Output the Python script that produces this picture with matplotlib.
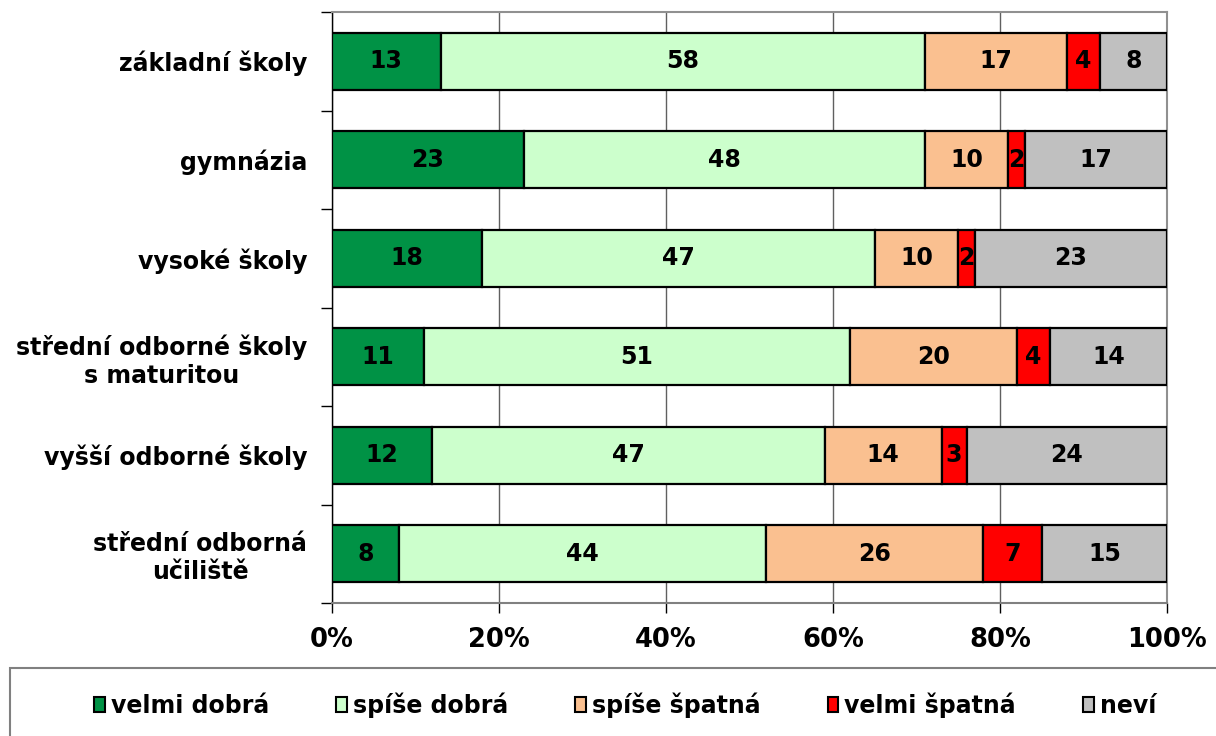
import matplotlib
matplotlib.use("Agg")
import matplotlib.pyplot as plt
from matplotlib.patches import Rectangle, Patch
import numpy as np

categories = ["základní školy", "gymnázia", "vysoké školy",
              "střední odborné školy\ns maturitou", "vyšší odborné školy",
              "střední odborná\nučiliště"]
series_names = ["velmi dobrá", "spíše dobrá", "spíše špatná", "velmi špatná", "neví"]
velmi_dobra = [13, 23, 18, 11, 12, 8]
spise_dobra = [58, 48, 47, 51, 47, 44]
spise_spatna = [17, 10, 10, 20, 14, 26]
velmi_spatna = [4, 2, 2, 4, 3, 7]
nevi = [8, 17, 23, 14, 24, 15]
x_ticks = [0, 20, 40, 60, 80, 100]
x_tick_labels = ["0%", "20%", "40%", "60%", "80%", "100%"]

colors = ["#009245", "#CCFFCC", "#FAC090", "#FF0000", "#C0C0C0"]

plt.rcParams['font.family'] = ['DejaVu Sans']
plt.rcParams['font.weight'] = 'bold'

fig = plt.figure(figsize=(12.16, 7.36), dpi=100)
ax = fig.add_axes([332/1216, 1-603/736, (1167-332)/1216, (603-12)/736])

series = [velmi_dobra, spise_dobra, spise_spatna, velmi_spatna, nevi]
y = np.arange(len(categories))
left = np.zeros(len(categories))
for vals, col, name in zip(series, colors, series_names):
    vals = np.array(vals, dtype=float)
    ax.barh(y, vals, left=left, height=0.58, color=col,
            edgecolor="black", linewidth=1.6, label=name, zorder=3)
    for yi, l, v in zip(y, left, vals):
        ax.text(l + v/2, yi, f"{int(v)}", ha="center", va="center",
                fontsize=17, fontweight="bold", color="black", zorder=4)
    left += vals

ax.set_xlim(0, 100)
ax.set_ylim(len(categories) - 0.5, -0.5)
ax.set_xticks(x_ticks)
ax.set_xticklabels(x_tick_labels, fontsize=18.5, fontweight="bold")
ax.set_yticks(y)
ax.set_yticklabels(categories, fontsize=17, fontweight="bold")
for t in ax.get_yticklabels():
    t.set_multialignment("center")
ax.set_yticks(np.arange(-0.5, len(categories)), minor=True)
ax.tick_params(axis="y", which="major", length=0, pad=18)
ax.tick_params(axis="y", which="minor", length=8, width=1, color="black")
ax.tick_params(axis="x", which="major", length=7, width=1, color="black", pad=10)

ax.xaxis.grid(True, color="#606060", linewidth=1, zorder=0)
ax.set_axisbelow(True)
for s in ["top", "right"]:
    ax.spines[s].set_color("#909090")
    ax.spines[s].set_linewidth(1.5)
ax.spines["left"].set_color("black")
ax.spines["left"].set_linewidth(1)
ax.spines["bottom"].set_color("#808080")
ax.spines["bottom"].set_linewidth(1.5)

# legend frame
fig.patches.append(Rectangle((10/1216, -0.05), 1.2, (736-668)/736 + 0.05,
                             transform=fig.transFigure, fill=False,
                             edgecolor="#808080", linewidth=1.5))
handles = [Patch(facecolor=c, edgecolor="black", linewidth=1.5) for c in colors]
fig.legend(handles, series_names, loc="center", bbox_to_anchor=(625/1216, 1-705/736),
           ncol=5, frameon=False, handlelength=0.45, handleheight=0.6,
           handletextpad=0.25, columnspacing=2.85, borderpad=0,
           prop={"weight": "bold", "size": 17})

fig.savefig("out.png", dpi=100)
